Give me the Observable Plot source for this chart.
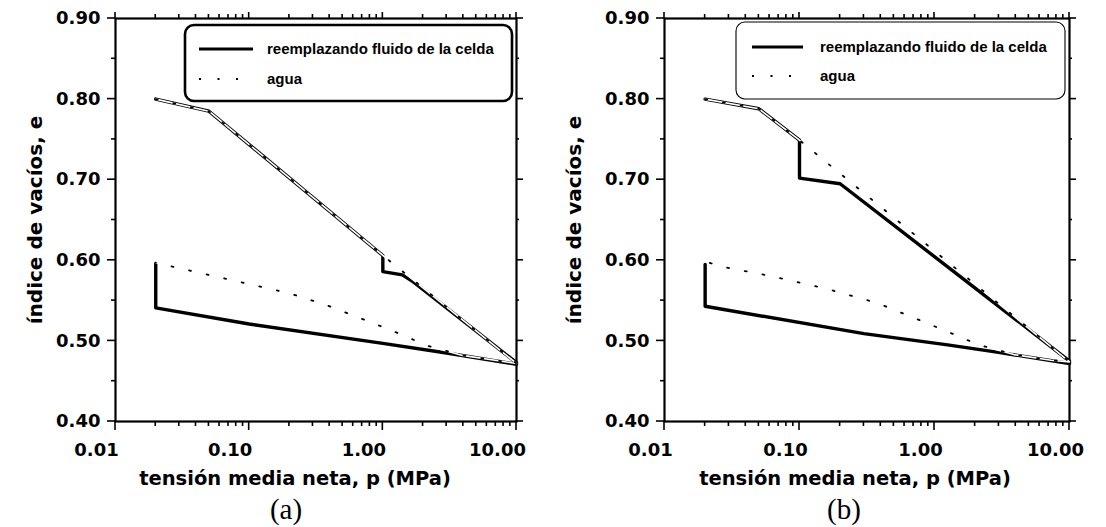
<!DOCTYPE html>
<html><head><meta charset="utf-8">
<script src="https://cdn.jsdelivr.net/npm/d3@7"></script>
<script src="https://cdn.jsdelivr.net/npm/@observablehq/plot@0.6"></script>
<style>
body{margin:0;background:#fff;}
#wrap{display:flex;width:1106px;height:527px;overflow:hidden;}
#wrap svg{display:block;}
</style></head><body><div id="wrap"></div>
<script>
// ---- tick values and labels ----
const xMajor = [0.01, 0.1, 1, 10];
const xMajorLabels = ["0.01", "0.10", "1.00", "10.00"];
const xMinor = [0.02,0.03,0.04,0.05,0.06,0.07,0.08,0.09,0.2,0.3,0.4,0.5,0.6,0.7,0.8,0.9,2,3,4,5,6,7,8,9];
const yMajor = [0.4, 0.5, 0.6, 0.7, 0.8, 0.9];
const yMajorLabels = ["0.40", "0.50", "0.60", "0.70", "0.80", "0.90"];
const yMinor = [0.45, 0.55, 0.65, 0.75, 0.85];
const xTitle = "tensión media neta, p (MPa)";
const yTitle = "índice de vacíos, e";
const legendLabels = ["reemplazando fluido de la celda", "agua"];
const captions = ["(a)", "(b)"];

// ---- panel (a) ----
const aSolidP = [0.02, 0.05, 1, 1, 1.4, 1.7, 10, 10, 3, 1, 0.1, 0.02, 0.02];
const aSolidE = [0.800, 0.785, 0.606, 0.586, 0.582, 0.573, 0.473, 0.471, 0.485, 0.497, 0.521, 0.541, 0.596];
const aAguaP = [0.02, 0.05, 1, 10, 3.95, 2.16, 1.2, 0.66, 0.37, 0.2, 0.11, 0.059, 0.024, 0.02];
const aAguaE = [0.800, 0.785, 0.606, 0.472, 0.482, 0.494, 0.512, 0.529, 0.545, 0.559, 0.569, 0.579, 0.594, 0.597];

// ---- panel (b) ----
const bSolidP = [0.02, 0.05, 0.1, 0.1, 0.2, 10, 10, 2.9, 1.25, 0.3, 0.02, 0.02];
const bSolidE = [0.800, 0.788, 0.749, 0.702, 0.695, 0.475, 0.472, 0.486, 0.495, 0.509, 0.543, 0.595];
const bAguaP = [0.02, 0.05, 0.1, 10, 7.3, 3.88, 2.14, 0.91, 0.377, 0.156, 0.063, 0.025, 0.02];
const bAguaE = [0.800, 0.788, 0.749, 0.474, 0.476, 0.483, 0.495, 0.521, 0.547, 0.565, 0.580, 0.593, 0.599];

const zip = (P, E) => P.map((p, i) => ({p, e: E[i]}));
const FONT = "DejaVu Sans";
const X0 = 0.01, X1 = 10, Y0 = 0.4, Y1 = 0.9;

function panel(cfg) {
  const solid = zip(cfg.solidP, cfg.solidE);
  const agua = zip(cfg.aguaP, cfg.aguaE);
  const W = 553, H = 527;
  const xLab = xMajor.map((v, i) => ({v, t: xMajorLabels[i]}));
  const yLab = yMajor.map((v, i) => ({v, t: yMajorLabels[i]}));
  const svg = Plot.plot({
    width: W, height: H,
    marginTop: 18, marginBottom: 106, marginLeft: cfg.ml, marginRight: cfg.mr,
    x: {type: "log", domain: [X0, X1], axis: null},
    y: {domain: [Y0, Y1], axis: null},
    style: {fontFamily: FONT, background: "white", color: "black"},
    marks: [
      Plot.frame({stroke: "black", strokeWidth: 2.2}),
      Plot.line(solid, {x: "p", y: "e", stroke: "black", strokeWidth: 3.4, strokeLinejoin: "round"}),
      Plot.line(agua, {x: "p", y: "e", stroke: "white", strokeWidth: 1.6}),
      Plot.line(agua, {x: "p", y: "e", stroke: "black", strokeWidth: 1.8, strokeDasharray: "2,16"}),
      Plot.text(xLab, {x: "v", text: "t", frameAnchor: "bottom", lineAnchor: "top",
        dy: 22, dx: cfg.labelDx, fontSize: 18, fontWeight: "bold", fill: "black"}),
      Plot.text(yLab, {y: "v", text: "t", frameAnchor: "left", textAnchor: "end", lineAnchor: "middle",
        dx: -15, fontSize: 18, fontWeight: "bold", fill: "black"}),
      Plot.text([xTitle], {frameAnchor: "bottom", textAnchor: "middle", lineAnchor: "middle",
        dy: 57, dx: cfg.titleDx, fontSize: 19.5, fontWeight: "bold", fill: "black"}),
      Plot.text([yTitle], {frameAnchor: "left", textAnchor: "middle", lineAnchor: "middle", rotate: -90,
        dx: cfg.yTitleX - cfg.ml, fontSize: 20, fontWeight: "bold", fill: "black"}),
      Plot.text([cfg.caption], {frameAnchor: "bottom", textAnchor: "middle", lineAnchor: "middle",
        dy: 88, dx: cfg.capDx, fontSize: 29, fontFamily: "Liberation Serif", fill: "black"})
    ]
  });
  // outward ticks on all four sides, placed through Plot's own scales
  const sx = svg.scale("x"), sy = svg.scale("y");
  const xl = sx.apply(X0), xr = sx.apply(X1), yb = sy.apply(Y0), yt = sy.apply(Y1);
  const tg = d3.select(svg).append("g").attr("stroke", "black").attr("stroke-width", 1.6);
  const hTick = (vals, yEdge, len) => vals.forEach(v => {
    const px = sx.apply(v);
    tg.append("line").attr("x1", px).attr("x2", px).attr("y1", yEdge).attr("y2", yEdge + len);
  });
  const vTick = (vals, xEdge, len) => vals.forEach(v => {
    const py = sy.apply(v);
    tg.append("line").attr("y1", py).attr("y2", py).attr("x1", xEdge).attr("x2", xEdge + len);
  });
  hTick(xMajor, yb, 9); hTick(xMinor, yb, 5);
  hTick(xMajor, yt, -6); hTick(xMinor, yt, -4);
  vTick(yMajor, xl, -8); vTick(yMinor, xl, -4);
  vTick(yMajor, xr, 7); vTick(yMinor, xr, 3);

  // legend box (layout only)
  const g = d3.select(svg).append("g");
  const L = cfg.legend;
  g.append("rect").attr("x", L.x).attr("y", L.y).attr("width", L.w).attr("height", L.h)
    .attr("rx", 9).attr("ry", 9).attr("fill", "white").attr("stroke", "black").attr("stroke-width", L.sw);
  g.append("line").attr("x1", L.lx1).attr("x2", L.lx2).attr("y1", L.r1).attr("y2", L.r1)
    .attr("stroke", "black").attr("stroke-width", 3.2);
  g.append("line").attr("x1", L.lx1).attr("x2", L.lx2).attr("y1", L.r2).attr("y2", L.r2)
    .attr("stroke", "black").attr("stroke-width", 1.8).attr("stroke-dasharray", "2,16.5");
  [L.r1, L.r2].forEach((yy, i) => {
    g.append("text").attr("x", L.tx).attr("y", yy).attr("dy", "0.35em").attr("text-anchor", "start")
      .attr("font-family", "Liberation Sans").attr("font-weight", "bold").attr("font-size", 15)
      .attr("fill", "black").text(legendLabels[i]);
  });
  return svg;
}

const wrap = document.getElementById("wrap");
wrap.appendChild(panel({
  solidP: aSolidP, solidE: aSolidE, aguaP: aAguaP, aguaE: aAguaE,
  ml: 115, mr: 37, labelDx: -19, titleDx: -21, capDx: -30, yTitleX: 35, caption: captions[0],
  legend: {x: 185, y: 25, w: 327, h: 76, sw: 2.6, lx1: 199, lx2: 253, tx: 267, r1: 49, r2: 79}
}));
wrap.appendChild(panel({
  solidP: bSolidP, solidE: bSolidE, aguaP: bAguaP, aguaE: bAguaE,
  ml: 111, mr: 37, labelDx: -14, titleDx: -12, capDx: -23, yTitleX: 21, caption: captions[1],
  legend: {x: 183, y: 22, w: 329, h: 77, sw: 1.1, lx1: 199, lx2: 250, tx: 267, r1: 47, r2: 76}
}));
</script></body></html>
